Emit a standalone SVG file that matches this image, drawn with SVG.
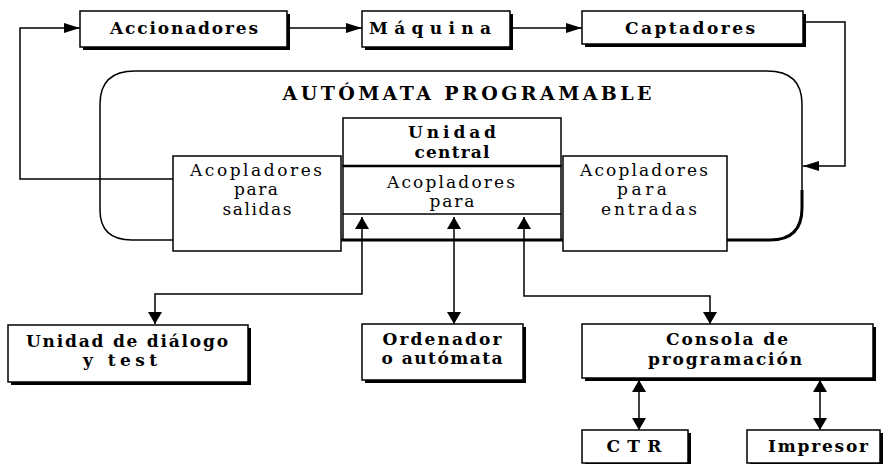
<svg xmlns="http://www.w3.org/2000/svg" width="890" height="464" viewBox="0 0 890 464">
<style>
.box{fill:#fff;stroke:#000;stroke-width:1.5}
.sh{fill:#000}
.ln{fill:none;stroke:#000;stroke-width:1.5}
.b{font-family:"DejaVu Serif","Liberation Serif",serif;font-weight:bold;font-size:17px;text-anchor:middle;fill:#000}
.r{font-family:"DejaVu Serif","Liberation Serif",serif;font-size:17px;text-anchor:middle;fill:#000}
.t{font-family:"DejaVu Serif","Liberation Serif",serif;font-weight:bold;font-size:19px;text-anchor:middle;fill:#000}
</style>
<defs>
<marker id="ah" viewBox="0 0 12 14" refX="12" refY="7" markerWidth="12" markerHeight="14" markerUnits="userSpaceOnUse" orient="auto-start-reverse">
<path d="M0,0 L12,7 L0,14 z" fill="#000"/>
</marker>
<marker id="ahs" viewBox="0 0 16 10" refX="16" refY="5" markerWidth="16" markerHeight="10" markerUnits="userSpaceOnUse" orient="auto-start-reverse">
<path d="M0,0 L16,5 L0,10 z" fill="#000"/>
</marker>
</defs>
<rect width="890" height="464" fill="#fff"/>

<g id="automata">
<path class="ln" d="M132,240 Q100,240 100,210 L100,104 Q100,71 135,71 L767,71 Q802,71 802,104 L802,208 Q802,240 770,240 Z"/>
<path fill="none" stroke="#000" stroke-width="3" d="M341,240 L563,240"/>
<path fill="none" stroke="#000" stroke-width="3" d="M727,240 L770,240 Q802,240 802,208 L802,190"/>
<text class="t" x="467" y="100" textLength="369" lengthAdjust="spacing">AUTÓMATA PROGRAMABLE</text>
</g>

<g id="connectors">
<path class="ln" d="M287,28 L362,28" marker-end="url(#ahs)"/>
<path class="ln" d="M510,28 L582,28" marker-end="url(#ahs)"/>
<path class="ln" d="M173,179 L20,179 L20,28 L80,28" marker-end="url(#ahs)"/>
<path class="ln" d="M803,22 L845,22 L845,166 L803,166" marker-end="url(#ahs)"/>
<path class="ln" d="M362,217 L362,294 L155,294 L155,324" marker-start="url(#ah)" marker-end="url(#ah)"/>
<path class="ln" d="M454,217 L454,324" marker-start="url(#ah)" marker-end="url(#ah)"/>
<path class="ln" d="M524,217 L524,296 L710,296 L710,324" marker-start="url(#ah)" marker-end="url(#ah)"/>
<path class="ln" d="M639,380 L639,430" marker-start="url(#ah)" marker-end="url(#ah)"/>
<path class="ln" d="M820,380 L820,430" marker-start="url(#ah)" marker-end="url(#ah)"/>
</g>

<g id="accionadores">
<rect class="sh" x="83" y="14" width="207" height="36"/>
<rect class="box" x="80" y="11" width="207" height="36"/>
<text class="b" x="184" y="34" textLength="148" lengthAdjust="spacing">Accionadores</text>
</g>
<g id="maquina">
<rect class="sh" x="365" y="14" width="148" height="36"/>
<rect class="box" x="362" y="11" width="148" height="36"/>
<text class="b" x="430" y="34" textLength="122" lengthAdjust="spacing">Máquina</text>
</g>
<g id="captadores">
<rect class="sh" x="585" y="14" width="221" height="33"/>
<rect class="box" x="582" y="11" width="221" height="33"/>
<text class="b" x="690" y="34" textLength="130" lengthAdjust="spacing">Captadores</text>
</g>

<g id="salidas">
<rect class="box" x="173" y="156" width="168" height="95"/>
<text class="r" x="256" y="176" textLength="132" lengthAdjust="spacing">Acopladores</text>
<text class="r" x="256" y="195" textLength="44" lengthAdjust="spacing">para</text>
<text class="r" x="257" y="215" textLength="69" lengthAdjust="spacing">salidas</text>
</g>

<g id="central">
<rect class="box" x="343" y="118" width="218" height="48"/>
<text class="b" x="452" y="138" textLength="88" lengthAdjust="spacing">Unidad</text>
<text class="b" x="452" y="158" textLength="75" lengthAdjust="spacing">central</text>
</g>
<g id="acopladores-central">
<rect class="box" x="343" y="166" width="218" height="48"/>
<path fill="none" stroke="#000" stroke-width="2.5" d="M343,166 L561,166"/>
<text class="r" x="451" y="188" textLength="128" lengthAdjust="spacing">Acopladores</text>
<text class="r" x="452" y="207" textLength="45" lengthAdjust="spacing">para</text>
<path class="ln" d="M343,214 L343,240 M561,214 L561,240"/>
</g>

<g id="entradas">
<rect class="box" x="563" y="156" width="164" height="95"/>
<text class="r" x="644" y="176" textLength="128" lengthAdjust="spacing">Acopladores</text>
<text class="r" x="642" y="195" textLength="50" lengthAdjust="spacing">para</text>
<text class="r" x="649" y="215" textLength="96" lengthAdjust="spacing">entradas</text>
</g>

<g id="dialogo">
<rect class="sh" x="11" y="328" width="240" height="57"/>
<rect class="box" x="8" y="325" width="240" height="57"/>
<text class="b" x="127" y="347" textLength="202" lengthAdjust="spacing">Unidad de diálogo</text>
<text class="b" x="120" y="366" textLength="74" lengthAdjust="spacing">y test</text>
</g>
<g id="ordenador">
<rect class="sh" x="365" y="327" width="161" height="56"/>
<rect class="box" x="362" y="324" width="161" height="56"/>
<text class="b" x="442" y="345" textLength="119" lengthAdjust="spacing">Ordenador</text>
<text class="b" x="442" y="364" textLength="121" lengthAdjust="spacing">o autómata</text>
</g>
<g id="consola">
<rect class="sh" x="585" y="327" width="291" height="54"/>
<rect class="box" x="582" y="324" width="291" height="54"/>
<text class="b" x="727" y="345" textLength="122" lengthAdjust="spacing">Consola de</text>
<text class="b" x="725" y="365" textLength="154" lengthAdjust="spacing">programación</text>
</g>
<g id="ctr">
<rect class="sh" x="585" y="433" width="106" height="33"/>
<rect class="box" x="582" y="430" width="106" height="33"/>
<text class="b" x="634" y="452" textLength="55" lengthAdjust="spacing">CTR</text>
</g>
<g id="impresor">
<rect class="sh" x="750" y="433" width="133" height="33"/>
<rect class="box" x="747" y="430" width="133" height="33"/>
<text class="b" x="818" y="452" textLength="100" lengthAdjust="spacing">Impresor</text>
</g>
</svg>
